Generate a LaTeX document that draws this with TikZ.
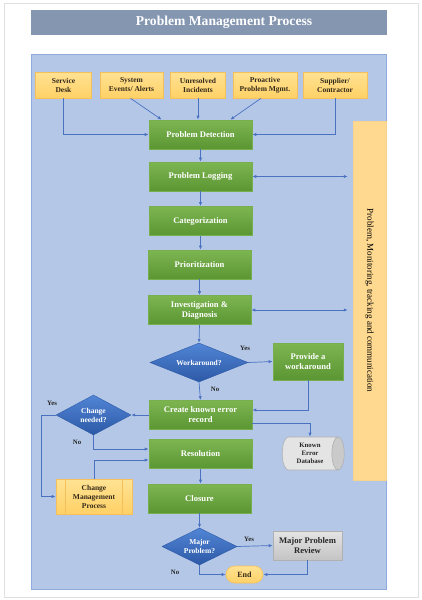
\documentclass[tikz,border=0pt]{standalone}
\usepackage{fontspec}
\setmainfont{Liberation Serif}
\usetikzlibrary{shapes.geometric,shapes.misc,arrows.meta}
\definecolor{panel}{HTML}{B4C7E7}
\definecolor{panelb}{HTML}{8FAADC}
\definecolor{titlec}{HTML}{8496B0}
\definecolor{gtop}{HTML}{7DB551}
\definecolor{gbot}{HTML}{5A9632}
\definecolor{gbor}{HTML}{78AE4E}
\definecolor{btop}{HTML}{5285D6}
\definecolor{bbot}{HTML}{2C59A6}
\definecolor{otop}{HTML}{FFE293}
\definecolor{obot}{HTML}{FFD166}
\definecolor{obor}{HTML}{F5C05A}
\definecolor{side}{HTML}{FFD98F}
\definecolor{gytop}{HTML}{E4E4E4}
\definecolor{gybot}{HTML}{C4C4C4}
\definecolor{gybor}{HTML}{B0B0B0}
\definecolor{arrc}{HTML}{4A72C0}
\definecolor{dtext}{HTML}{33291A}
\begin{document}
\begin{tikzpicture}[x=1pt,y=-1pt,
  greenbox/.style={rectangle,draw=gbor,line width=0.6pt,top color=gtop,bottom color=gbot,
    minimum width=103pt,minimum height=29pt,inner sep=1pt,align=center,text=white,
    font=\bfseries\fontsize{8.6}{10}\selectfont},
  srcbox/.style={rectangle,draw=obor,line width=0.6pt,top color=otop,bottom color=obot,
    minimum height=26pt,inner sep=1pt,align=center,text=dtext,
    font=\bfseries\fontsize{7.5}{9}\selectfont},
  decis/.style={diamond,aspect=2.5,inner sep=0pt,draw=bbot,line width=0.4pt,top color=btop,bottom color=bbot,
    align=center,text=white,font=\bfseries\fontsize{7.5}{9}\selectfont},
  greybox/.style={rectangle,draw=gybor,line width=0.6pt,top color=gytop,bottom color=gybot,
    minimum width=69pt,minimum height=29pt,inner sep=1pt,align=center,text=black!85,
    font=\bfseries\fontsize{8.6}{10}\selectfont},
  arr/.style={draw=arrc,line width=0.7pt,-{Latex[length=4pt,width=3.2pt]}},
  arrtwo/.style={draw=arrc,line width=0.7pt,{Latex[length=4pt,width=3.2pt]}-{Latex[length=4pt,width=3.2pt]}},
  lbl/.style={font=\bfseries\fontsize{6.8}{7}\selectfont,text=black!85,inner sep=0pt}]
\useasboundingbox (0,0) rectangle (422,600);
\fill[white] (0,0) rectangle (422,600);
\draw[black!12,line width=0.6pt] (4,3) rectangle (418,597);
% title
\node[rectangle,fill=titlec,minimum width=356pt,minimum height=25pt] (title) at (209,22.5) {};
\node[text=white,font=\bfseries\fontsize{13.6}{15}\selectfont] (titletext) at (224,22.5) {Problem Management Process};
% panel
\node[rectangle,fill=panel,draw=panelb,line width=0.6pt,minimum width=355pt,minimum height=535pt] (panel) at (208.5,321.5) {};
% side bar
\node[rectangle,fill=side,draw=obor!70,line width=0.5pt,minimum width=33pt,minimum height=359pt] (side) at (369.5,300.5) {};
\node[rotate=-90,font=\fontsize{9}{10}\selectfont,text=black] (sidetext) at (369.5,300.5) {Problem, Monitoring, tracking and communication};
% sources
\node[srcbox,minimum width=56pt] (sd) at (63.5,85) {Service\\Desk};
\node[srcbox,minimum width=63pt] (sys) at (131.5,85) {System\\Events/ Alerts};
\node[srcbox,minimum width=55pt] (unr) at (198,85) {Unresolved\\Incidents};
\node[srcbox,minimum width=64pt] (pro) at (265,85) {Proactive\\Problem Mgmt.};
\node[srcbox,minimum width=64pt] (sup) at (335,85) {Supplier/\\Contractor};
% main chain
\node[greenbox] (pd) at (200.5,134.5) {Problem Detection};
\node[greenbox] (pl) at (200.5,176.5) {Problem Logging};
\node[greenbox] (cat) at (200.5,221) {Categorization};
\node[greenbox] (pri) at (199.5,264.5) {Prioritization};
\node[greenbox] (inv) at (199.5,310) {Investigation \&\\Diagnosis};
\node[decis,minimum width=98pt,minimum height=39pt] (wk) at (199,362.5) {Workaround?};
\node[greenbox,minimum width=70pt,minimum height=37pt] (pw) at (308,361.5) {Provide a\\workaround};
\node[greenbox] (kr) at (200.5,415) {Create known error\\record};
\node[cylinder,shape border rotate=0,aspect=0.6,draw=gybor,line width=0.6pt,
  cylinder uses custom fill,cylinder body fill=gytop,cylinder end fill=gybot!90,
  minimum width=33pt,minimum height=62pt,inner sep=0pt,align=center,
  font=\bfseries\fontsize{6.8}{8}\selectfont,text=black!85] (db) at (310,453.5) {Known\\Error\\Database};
\node[decis,minimum width=75pt,minimum height=40pt] (cn) at (93.5,415) {Change\\needed?};
\node[greenbox] (res) at (200.5,454) {Resolution};
\node[srcbox,minimum width=76pt,minimum height=35pt] (cmp) at (94,496.5) {Change\\Management\\Process};
\draw[obor,line width=0.6pt] ([xshift=10pt]cmp.north west) -- ([xshift=10pt]cmp.south west);
\draw[obor,line width=0.6pt] ([xshift=-10pt]cmp.north east) -- ([xshift=-10pt]cmp.south east);
\node[greenbox] (cl) at (199.5,498.5) {Closure};
\node[decis,minimum width=75pt,minimum height=37pt] (mp) at (199.5,546.5) {Major\\Problem?};
\node[greybox] (mpr) at (307.5,545.5) {Major Problem\\Review};
\node[rounded rectangle,draw=obor,line width=0.6pt,top color=otop,bottom color=obot,
  minimum width=39pt,minimum height=17pt,inner sep=1pt,text=dtext,
  font=\bfseries\fontsize{8}{9}\selectfont] (end) at (244.5,574.5) {End};
% connectors: sources
\draw[arr] (sd.south) |- (pd.west);
\draw[arr] (sup.south) |- (pd.east);
\draw[arr] ([xshift=-1pt]sys.south) -- ([xshift=13pt]pd.north west);
\draw[arr] (unr.south) -- (unr.south |- pd.north);
\draw[arr] ([xshift=-4pt]pro.south) -- ([xshift=-22pt]pd.north east);
% chain
\draw[arr] (pd.south) -- (pd.south |- pl.north);
\draw[arr] (pl.south) -- (pl.south |- cat.north);
\draw[arr] (cat.south) -- (cat.south |- pri.north);
\draw[arr] (pri.south) -- (pri.south |- inv.north);
\draw[arr] (inv.south) -- (wk.north);
\draw[arrtwo] (pl.east) -- ([xshift=-5pt]pl.east -| side.west);
\draw[arrtwo] (inv.east) -- ([xshift=-5pt]inv.east -| side.west);
\draw[arr] (wk.east) -- (pw.west);
\node[lbl] (yes1) at (245,348) {Yes};
\draw[arr] (wk.south) -- (kr.north);
\node[lbl] (no1) at (215,389) {No};
\draw[arr] (pw.south) |- ([yshift=5pt]kr.east);
\draw[arr] ([yshift=-8pt]kr.east) -| (db.north);
\draw[arr] (kr.west) -- (cn.east);
\draw[arr] (cn.west) -- ++(-14,0) |- (cmp.west);
\node[lbl] (yes2) at (52,403) {Yes};
\draw[arr] (cn.south) |- ([yshift=5pt]res.west);
\node[lbl] (no2) at (77,442) {No};
\draw[arr] (cmp.north) |- ([yshift=-6pt]res.west);
\draw[arr] (res.south) -- (res.south |- cl.north);
\draw[arr] (cl.south) -- (mp.north);
\draw[arr] (mp.east) -- (mpr.west);
\node[lbl] (yes3) at (249,539) {Yes};
\draw[arr] (mp.south) |- (end.west);
\node[lbl] (no3) at (175,572) {No};
\draw[arr] (mpr.south) |- (end.east);
\end{tikzpicture}
\end{document}
